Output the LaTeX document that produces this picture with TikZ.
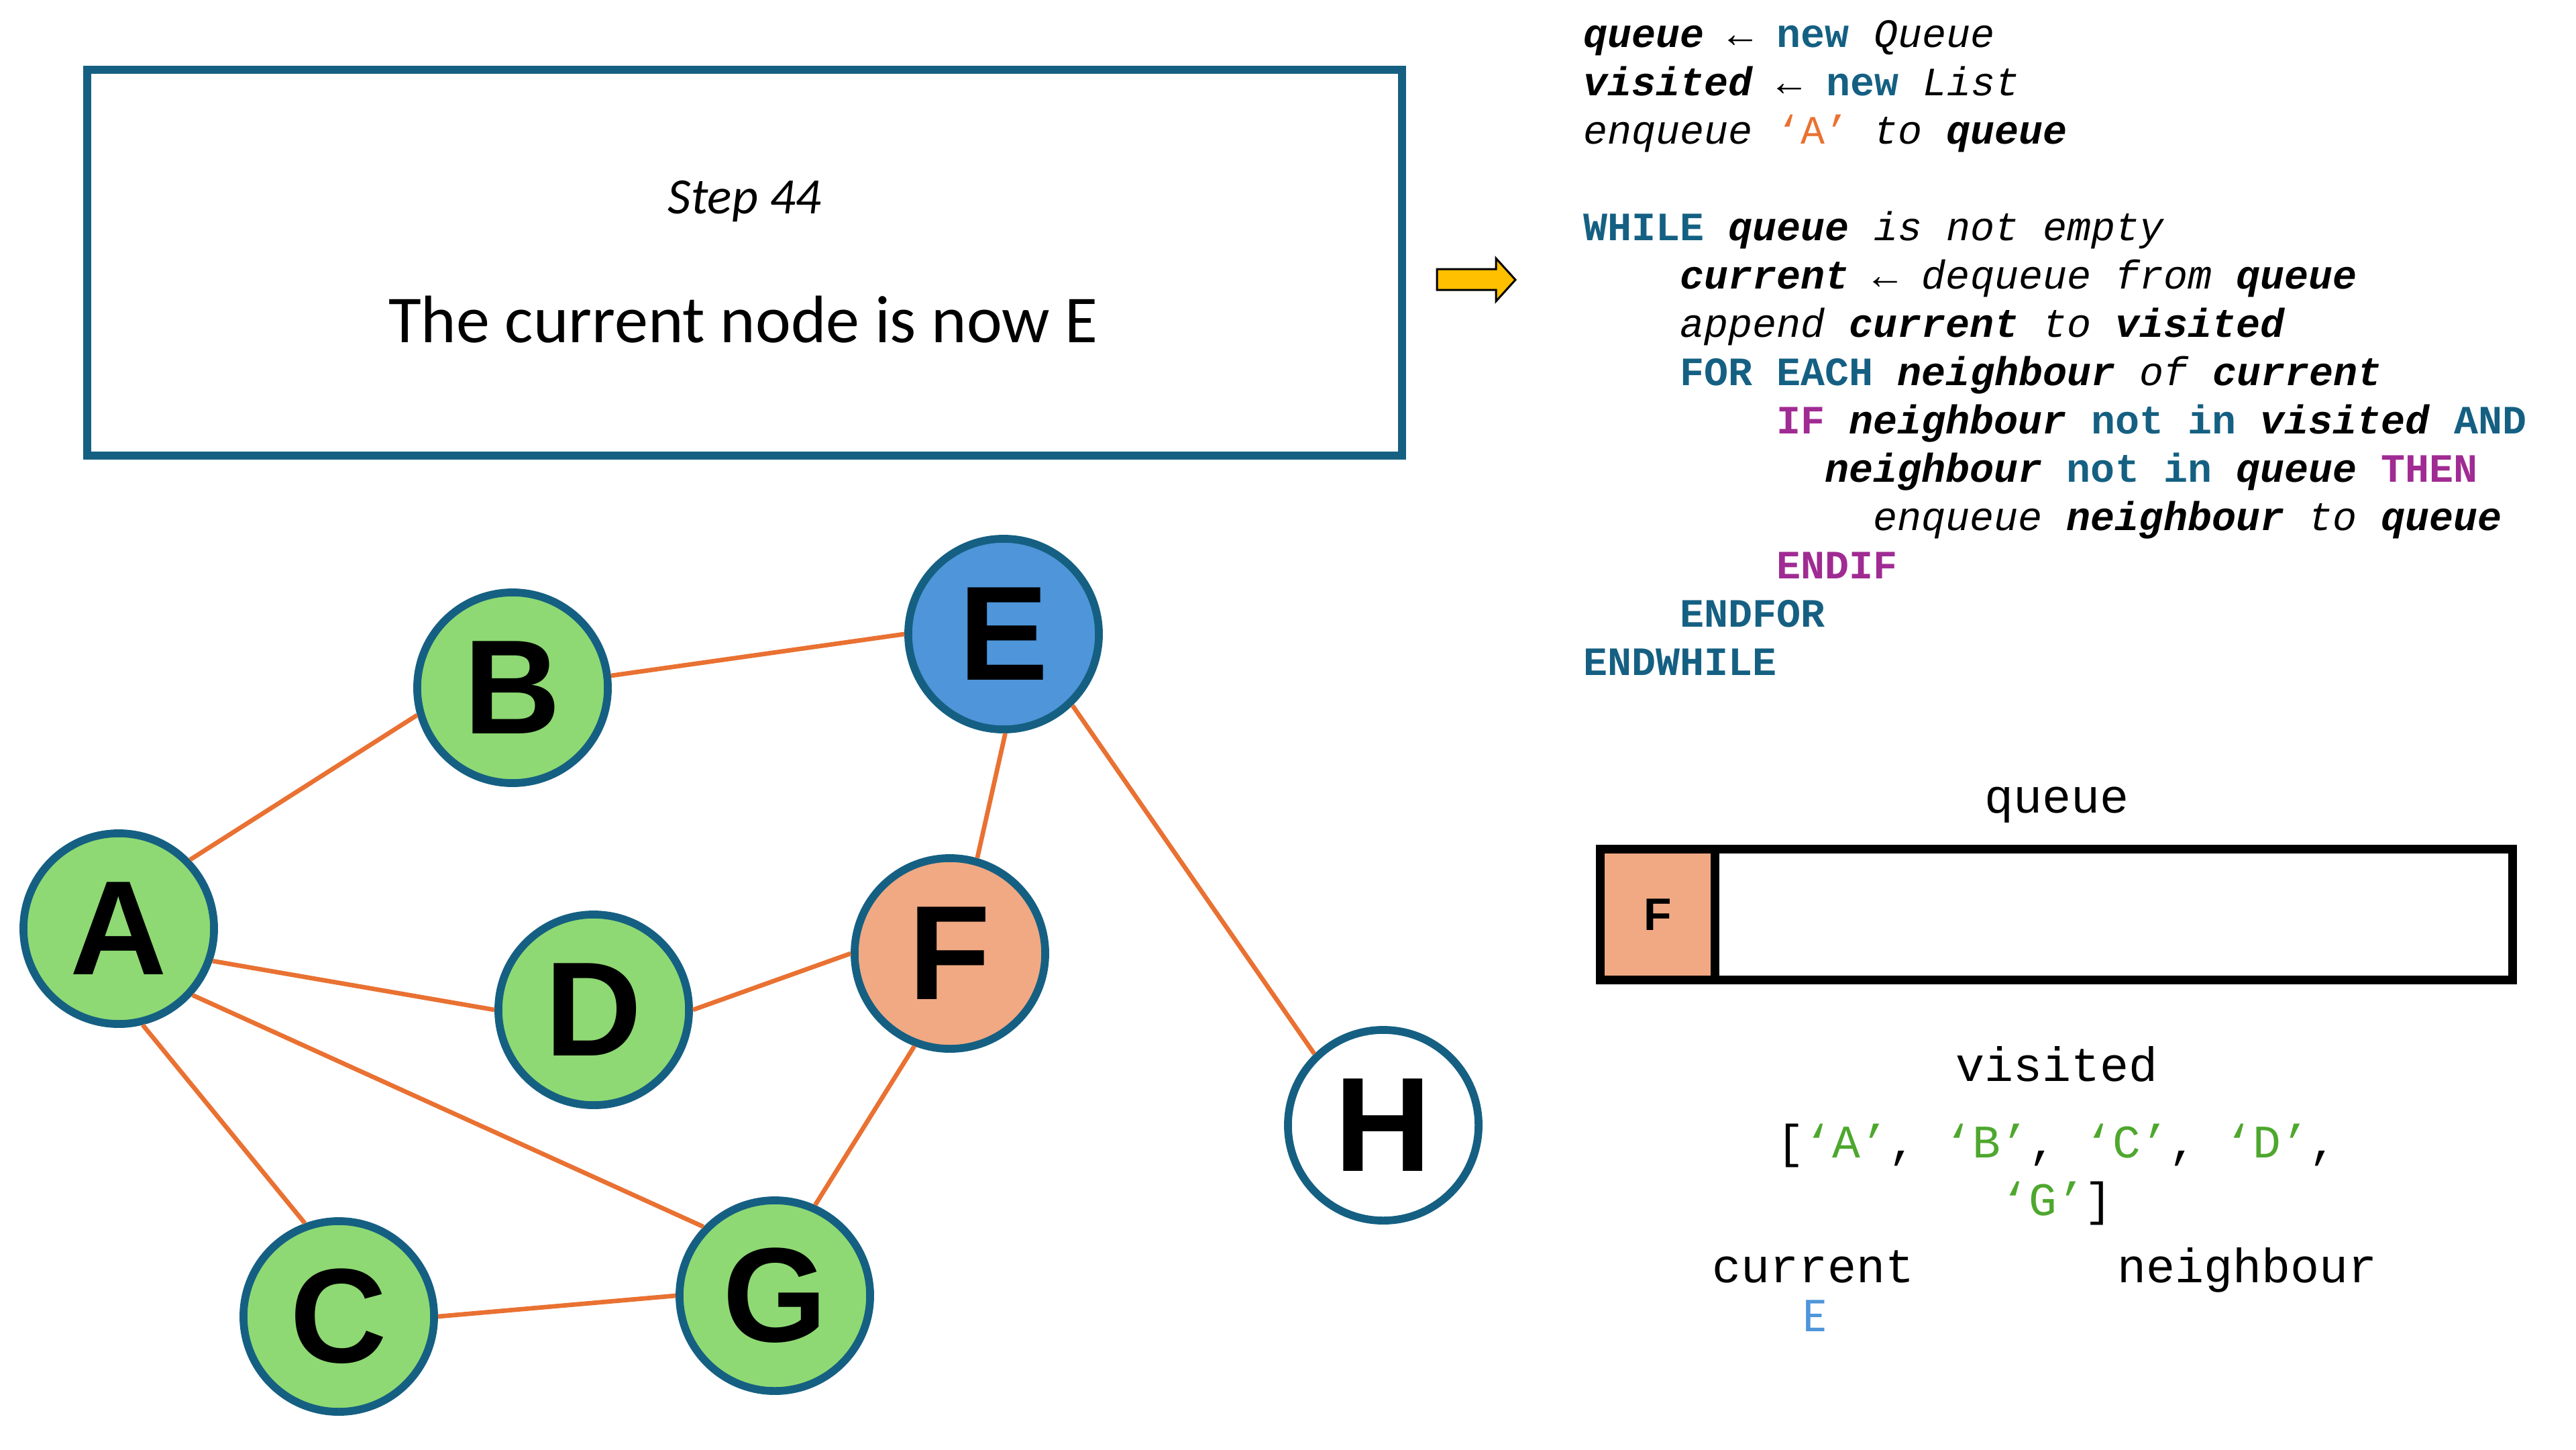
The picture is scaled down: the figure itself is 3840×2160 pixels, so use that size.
\documentclass[tikz,border=0pt]{standalone}
\usepackage{fontspec}
\usepackage{xcolor}
\usepackage{tikz}
\setmainfont{Carlito}
\setmonofont{Liberation Mono}
\newfontfamily\nodefont{Liberation Sans}
\definecolor{nodeteal}{HTML}{156082}
\definecolor{edgeorange}{HTML}{E97132}
\definecolor{nodegreen}{HTML}{8ED973}
\definecolor{nodeblue}{HTML}{4E95D9}
\definecolor{nodesalmon}{HTML}{F1A983}
\definecolor{kwpurple}{HTML}{A02B93}
\definecolor{listgreen}{HTML}{4EA72E}
\definecolor{arrowyellow}{HTML}{FFC000}
\newcommand{\var}[1]{\textbf{\textit{#1}}}
\newcommand{\kw}[1]{\textcolor{nodeteal}{\textbf{#1}}}
\newcommand{\kwp}[1]{\textcolor{kwpurple}{\textbf{#1}}}
\newcommand{\op}[1]{\textit{#1}}
\newcommand{\chr}[1]{\textcolor{listgreen}{‘#1’}}

\begin{document}
\begin{tikzpicture}[
			     x=0.01cm, y=-0.01cm,
			     vert/.style={circle, draw=nodeteal, line width=0.117cm, minimum size=2.84cm, inner sep=0pt,
			       font=\nodefont\bfseries\fontsize{56.9pt}{60pt}\selectfont},
			     link/.style={draw=edgeorange, line width=0.067cm},
			     codeline/.style={anchor=base west, inner sep=0pt, font=\ttfamily\fontsize{17.07pt}{20.5pt}\selectfont},
			     varlabel/.style={anchor=base, inner sep=0pt, font=\ttfamily\fontsize{20.4pt}{23pt}\selectfont}
			     ]
\useasboundingbox (0,0) rectangle (3840,2160);
% step box
\node[draw=nodeteal, line width=0.12cm, minimum width=19.58cm, minimum height=5.75cm, inner sep=0pt] (stepbox) at (1110,391.5) {};
\node[anchor=base, inner sep=0pt, font=\itshape\fontsize{21.6pt}{24pt}\selectfont] (steptitle) at (1110,318) {Step 44};
\node[anchor=base, inner sep=0pt, font=\fontsize{28.45pt}{32pt}\selectfont] (stepmsg) at (1108,510) {The current node is now E};
\draw[fill=arrowyellow, line width=0.03cm] (2142,401) -- (2230,401) -- (2230,385) -- (2259,417) -- (2230,449) -- (2230,432) -- (2142,432) -- cycle;
% graph
\node[vert, fill=nodegreen] (A) at (177,1384) {A};
\node[vert, fill=nodegreen] (B) at (764,1025) {B};
\node[vert, fill=nodeblue] (E) at (1496,945) {E};
\node[vert, fill=nodesalmon] (F) at (1416,1421) {F};
\node[vert, fill=nodegreen] (D) at (885,1505) {D};
\node[vert, fill=white] (H) at (2062,1677) {H};
\node[vert, fill=nodegreen] (C) at (505,1962) {C};
\node[vert, fill=nodegreen] (G) at (1155,1931) {G};
\foreach \a/\p/\b/\q in {A/44/B/196, B/7/E/180, E/271/F/74, E/314/H/134, A/-19/D/180,
                         D/0/F/180, A/-42/G/136, A/-76/C/110, F/249/G/66, C/0/G/180}
  \path[link] (\a.\p) -- (\b.\q);
% pseudocode
\node[codeline] (code1) at (2360,70) {\var{queue} ← \kw{new} \op{Queue}};
\node[codeline] (code2) at (2360,142) {\var{visited} ← \kw{new} \op{List}};
\node[codeline] (code3) at (2360,214) {\op{enqueue} \textcolor{edgeorange}{‘A’} \op{to} \var{queue}};
\node[codeline] (code5) at (2360,358) {\kw{WHILE} \var{queue} \op{is not empty}};
\node[codeline] (code6) at (2504,430) {\var{current} ← \op{dequeue from} \var{queue}};
\node[codeline] (code7) at (2504,502) {\op{append} \var{current} \op{to} \var{visited}};
\node[codeline] (code8) at (2504,574) {\kw{FOR EACH} \var{neighbour} \op{of} \var{current}};
\node[codeline] (code9) at (2648,646) {\kwp{IF} \var{neighbour} \kw{not in} \var{visited} \kw{AND}};
\node[codeline] (code10) at (2720,718) {\var{neighbour} \kw{not in} \var{queue} \kwp{THEN}};
\node[codeline] (code11) at (2792,790) {\op{enqueue} \var{neighbour} \op{to} \var{queue}};
\node[codeline] (code12) at (2648,862) {\kwp{ENDIF}};
\node[codeline] (code13) at (2504,934) {\kw{ENDFOR}};
\node[codeline] (code14) at (2360,1006) {\kw{ENDWHILE}};
% queue
\node[varlabel] (queuelabel) at (3066,1211) {queue};
\node[draw, line width=0.13cm, minimum width=13.6cm, minimum height=1.95cm, inner sep=0pt] (queuebox) at (3065.5,1363) {};
\node[draw, fill=nodesalmon, line width=0.13cm, minimum width=1.705cm, minimum height=1.95cm, inner sep=0pt,
      font=\nodefont\bfseries\fontsize{19.3pt}{20pt}\selectfont] (qF) at (2470.75,1363) {F};
% visited
\node[varlabel] (visitedlabel) at (3066,1611) {visited};
\node[varlabel, font=\ttfamily\fontsize{19.8pt}{23pt}\selectfont] (visited1) at (3066,1725) {[\chr{A}, \chr{B}, \chr{C}, \chr{D},};
\node[varlabel, font=\ttfamily\fontsize{19.8pt}{23pt}\selectfont] (visited2) at (3066,1811) {\chr{G}]};
% current / neighbour
\node[varlabel] (currentlabel) at (2703,1911) {current};
\node[anchor=base, inner sep=0pt, text=nodeblue, font=\fontsize{20.7pt}{22pt}\selectfont] (currentval) at (2705,1984) {E};
\node[varlabel] (neighbourlabel) at (3350,1911) {neighbour};
\end{tikzpicture}
\end{document}
